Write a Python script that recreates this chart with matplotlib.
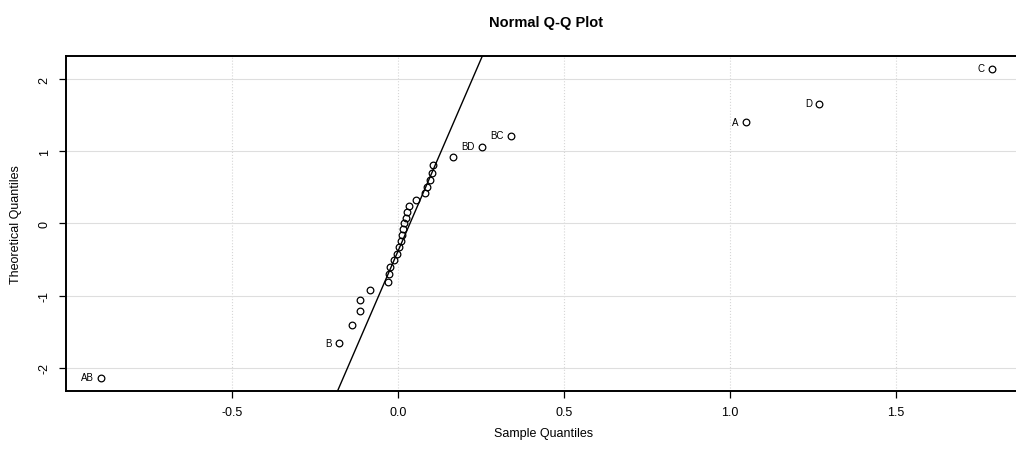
import numpy as np
import matplotlib
matplotlib.use('Agg')
import matplotlib.pyplot as plt

plt.rcParams['font.family'] = ['Liberation Sans Narrow', 'Liberation Sans', 'DejaVu Sans']

# sample quantiles (effects), sorted
sample_q = [-0.895, -0.178, -0.140, -0.114, -0.114, -0.084,
            -0.029, -0.026, -0.024, -0.011, -0.004, 0.003, 0.009, 0.013, 0.016,
            0.019,
            0.024, 0.028, 0.034, 0.054, 0.081, 0.088, 0.096, 0.101, 0.106,
            0.166, 0.253, 0.340, 1.048, 1.268, 1.789]
# theoretical quantiles
theo_q = [-2.14, -1.66, -1.40, -1.21, -1.06, -0.925,
          -0.807, -0.700, -0.600, -0.506, -0.416, -0.330, -0.245, -0.162, -0.081,
          0.0,
          0.081, 0.162, 0.245, 0.330, 0.416, 0.506, 0.600, 0.700, 0.807,
          0.925, 1.06, 1.21, 1.40, 1.66, 2.14]
# labelled effects: index into the lists above
labels = {0: 'AB', 1: 'B', 26: 'BD', 27: 'BC', 28: 'A', 29: 'D', 30: 'C'}

# reference line y = slope * (x - x0)
line_slope = 10.64
line_x0 = 0.036

xticks = [-0.5, 0.0, 0.5, 1.0, 1.5]
yticks = [-2, -1, 0, 1, 2]

fig = plt.figure(figsize=(10.16, 4.6), dpi=100)
ax = fig.add_axes([0.065, 0.148, 0.94, 0.728])

for t in xticks:
    ax.axvline(t, color='#d6d6d6', lw=0.8, ls=':', zorder=0)
for t in yticks:
    ax.axhline(t, color='#dedede', lw=0.8, zorder=0)

ax.plot(sample_q, theo_q, 'o', mfc='none', mec='black', ms=4.8, mew=0.9)

xl = np.array([-1.0, 1.9])
ax.plot(xl, line_slope * (xl - line_x0), color='black', lw=1.0)

for i, lab in labels.items():
    ax.annotate(lab, (sample_q[i], theo_q[i]), xytext=(-5, 0.5),
                textcoords='offset points', ha='right', va='center', fontsize=7)

ax.set_xlim(-1.0, 1.877)
ax.set_ylim(-2.32, 2.32)
ax.set_xticks(xticks)
ax.set_xticklabels(['-0.5', '0.0', '0.5', '1.0', '1.5'])
ax.set_yticks(yticks)
ax.set_yticklabels(['-2', '-1', '0', '1', '2'], rotation=90, va='center')
ax.tick_params(direction='out', length=5, width=0.9, labelsize=9, pad=6)

for s in ax.spines.values():
    s.set_linewidth(1.4)

ax.set_xlabel('Sample Quantiles', fontsize=9, labelpad=6)
ax.set_ylabel('Theoretical Quantiles', fontsize=9, labelpad=12)
fig.text(0.537, 0.95, 'Normal Q-Q Plot', ha='center', va='center',
         fontsize=10.5, fontweight='bold')

fig.savefig('out.png', dpi=100)
